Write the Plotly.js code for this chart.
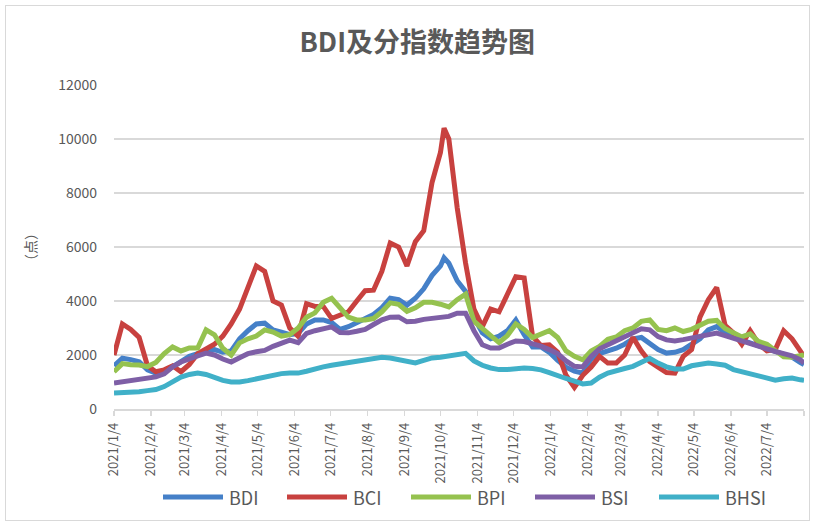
<!DOCTYPE html>
<html>
<head>
<meta charset="utf-8">
<script src="https://cdn.plot.ly/plotly-3.0.1.min.js"></script>
<style>
html,body{margin:0;padding:0;background:#ffffff;}
#chart{position:absolute;left:0;top:0;width:815px;height:526px;}
#frame{position:absolute;left:5px;top:5px;width:803px;height:514px;border:1.5px solid #d9d9d9;pointer-events:none;}
</style>
</head>
<body>
<div id="chart"></div>
<div id="frame"></div>
<script>
// ---- data ----
const dates = [
 '2021-01-04','2021-01-11','2021-01-18','2021-01-25','2021-02-01','2021-02-08','2021-02-15','2021-02-22',
 '2021-03-01','2021-03-08','2021-03-15','2021-03-22','2021-03-29','2021-04-05','2021-04-12','2021-04-19','2021-04-26',
 '2021-05-03','2021-05-10','2021-05-17','2021-05-24','2021-05-31','2021-06-07','2021-06-14','2021-06-21','2021-06-28',
 '2021-07-05','2021-07-12','2021-07-19','2021-07-26','2021-08-02','2021-08-09','2021-08-16','2021-08-23','2021-08-30',
 '2021-09-06','2021-09-13','2021-09-20','2021-09-27','2021-10-04','2021-10-07','2021-10-11','2021-10-18','2021-10-25',
 '2021-11-01','2021-11-08','2021-11-15','2021-11-22','2021-11-29','2021-12-06','2021-12-13','2021-12-20','2021-12-27',
 '2022-01-03','2022-01-10','2022-01-17','2022-01-24','2022-01-31','2022-02-07','2022-02-14','2022-02-21','2022-02-28',
 '2022-03-07','2022-03-14','2022-03-21','2022-03-28','2022-04-04','2022-04-11','2022-04-18','2022-04-25',
 '2022-05-02','2022-05-09','2022-05-16','2022-05-23','2022-05-30','2022-06-06','2022-06-13','2022-06-20','2022-06-27',
 '2022-07-04','2022-07-11','2022-07-18','2022-07-25','2022-08-01','2022-08-04'
];

const bdi = [1600,1880,1830,1750,1450,1330,1370,1550,1750,1950,2050,2150,2200,2100,2150,2600,2900,3150,3180,2930,
 2850,2750,2800,3150,3300,3300,3200,2950,3050,3200,3350,3500,3750,4100,4050,3850,4100,4450,4950,5300,5600,
 5400,4750,4350,3400,2820,2600,2700,2900,3300,2750,2300,2300,
 2100,1800,1550,1400,1330,1850,2050,2150,2250,2400,2600,2650,2400,2200,2070,2100,2200,2400,2600,2930,
 3050,2850,2650,2550,2450,2330,2250,2130,2050,1920,1720,1650];

const bci = [2000,3150,2950,2650,1600,1380,1450,1600,1380,1650,2050,2250,2400,2700,3150,3700,4550,5300,5100,4000,
 3850,3000,2700,3900,3800,3800,3350,3500,3600,4000,4380,4400,5100,6150,6000,5300,6200,6600,8400,9500,10400,
 10000,7450,5400,3700,3050,3700,3600,4300,4900,4850,2700,2350,
 2380,2100,1250,800,1250,1550,1950,1700,1700,2000,2650,2150,1750,1550,1350,1330,1950,2200,3400,4050,
 4500,3100,2820,2400,2900,2420,2150,2200,2900,2600,2150,1950];

const bpi = [1380,1680,1640,1630,1570,1720,2050,2300,2150,2260,2260,2930,2750,2250,2000,2450,2600,2700,2930,2850,
 2700,2750,3000,3400,3560,3950,4100,3780,3400,3300,3300,3350,3600,3930,3880,3620,3750,3950,3950,3880,3820,
 3780,4050,4250,3250,2960,2720,2460,2720,3150,2950,2650,2780,
 2900,2650,2150,1950,1820,2150,2320,2580,2670,2900,3000,3250,3300,2950,2900,3000,2870,2950,3100,3250,
 3280,2980,2820,2670,2780,2500,2400,2180,1930,1920,1980,2000];

const bsi = [960,1010,1080,1130,1160,1190,1300,1560,1740,1870,1970,2070,2000,1850,1740,1900,2050,2120,2170,2320,
 2450,2550,2460,2800,2900,2980,3040,2830,2820,2880,2950,3130,3300,3400,3410,3230,3250,3320,3360,3390,3410,
 3430,3550,3550,2900,2380,2260,2260,2400,2520,2500,2420,2330,
 2200,2050,1780,1580,1560,1950,2230,2380,2500,2680,2820,2970,2930,2680,2560,2520,2570,2640,2690,2740,
 2810,2720,2620,2520,2420,2300,2200,2130,2050,1970,1820,1700];

const bhsi = [590,600,620,640,680,720,830,1020,1180,1280,1330,1280,1160,1060,1000,1000,1050,1120,1170,1230,
 1310,1330,1330,1400,1500,1560,1620,1670,1730,1770,1800,1850,1920,1890,1830,1780,1710,1800,1890,1920,1940,
 1960,2000,2060,1780,1620,1520,1460,1460,1510,1520,1500,1450,
 1350,1260,1130,1030,930,960,1180,1330,1430,1500,1580,1710,1880,1700,1560,1480,1480,1600,1670,1700,
 1670,1620,1460,1390,1300,1210,1140,1070,1120,1150,1080,1060];

const seriesNames = ['BDI','BCI','BPI','BSI','BHSI'];
const seriesColors = ['#4580c8','#c8413f','#95c24f','#7e5fa6','#40b0c8'];

const tickVals = ['2021-01-04','2021-02-04','2021-03-04','2021-04-04','2021-05-04','2021-06-04','2021-07-04',
 '2021-08-04','2021-09-04','2021-10-04','2021-11-04','2021-12-04','2022-01-04','2022-02-04','2022-03-04',
 '2022-04-04','2022-05-04','2022-06-04','2022-07-04','2022-08-04'];
const tickText = ['2021/1/4','2021/2/4','2021/3/4','2021/4/4','2021/5/4','2021/6/4','2021/7/4',
 '2021/8/4','2021/9/4','2021/10/4','2021/11/4','2021/12/4','2022/1/4','2022/2/4','2022/3/4',
 '2022/4/4','2022/5/4','2022/6/4','2022/7/4',''];

// ---- chart ----
const FONT = '"Noto Sans CJK SC", "Noto Sans", sans-serif';
const GREY = '#595959';
const GRID = '#d9d9d9';
const M = {l:114, r:11, t:85, b:117};
const W = 815, H = 526;
const plotW = W - M.l - M.r, plotH = H - M.t - M.b;

const valueSets = [bdi, bci, bpi, bsi, bhsi];
const traces = valueSets.map((vals, i) => ({
  type: 'scatter', mode: 'lines', name: seriesNames[i],
  x: dates, y: vals,
  line: {color: seriesColors[i], width: 5},
  showlegend: false, hoverinfo: 'skip'
}));

// custom legend (long line samples like the reference)
const legendY = (M.t + plotH - 497) / plotH;
const legendStart = 163, legendStep = 124, sampleLen = 60;
const shapes = [], annotations = [];
seriesNames.forEach((n, i) => {
  const x0 = (legendStart + i * legendStep - M.l) / plotW;
  const x1 = x0 + sampleLen / plotW;
  shapes.push({type:'line', xref:'paper', yref:'paper', x0:x0, x1:x1, y0:legendY, y1:legendY,
    line:{color: seriesColors[i], width: 5}});
  annotations.push({xref:'paper', yref:'paper', x: x1 + 4 / plotW, y: legendY, xanchor:'left', yanchor:'middle',
    text: n, showarrow:false, font:{family: FONT, size: 18, color: GREY}});
});

const layout = {
  width: W, height: H,
  margin: M,
  paper_bgcolor: '#ffffff', plot_bgcolor: '#ffffff',
  font: {family: FONT, color: GREY},
  title: {text: 'BDI及分指数趋势图', x: 0.512, xref: 'container', xanchor: 'center',
          y: 1 - 43 / H, yref: 'container', yanchor: 'middle',
          font: {family: FONT, size: 27, color: GREY, weight: 'bold'}},
  xaxis: {
    type: 'date', range: ['2021-01-04', '2022-08-04'],
    tickmode: 'array', tickvals: tickVals, ticktext: tickText, tickangle: -90,
    ticks: 'outside', ticklen: 5, tickcolor: GRID, tickwidth: 1.3,
    showline: true, linecolor: GRID, linewidth: 1.5,
    showgrid: false, zeroline: false,
    tickfont: {family: FONT, size: 13, color: GREY},
    ticklabelstandoff: 2, fixedrange: true
  },
  yaxis: {
    range: [0, 12000], dtick: 2000, tickformat: 'd',
    showgrid: true, gridcolor: GRID, gridwidth: 1.5,
    zeroline: false, showline: false, ticks: '',
    tickfont: {family: FONT, size: 14, color: GREY},
    ticklabelstandoff: 16,
    title: {text: '（点）', standoff: 18, font: {family: FONT, size: 14, color: GREY}},
    fixedrange: true
  },
  shapes: shapes,
  annotations: annotations,
  showlegend: false
};

Plotly.newPlot('chart', traces, layout, {staticPlot: true, displayModeBar: false});
</script>
</body>
</html>
